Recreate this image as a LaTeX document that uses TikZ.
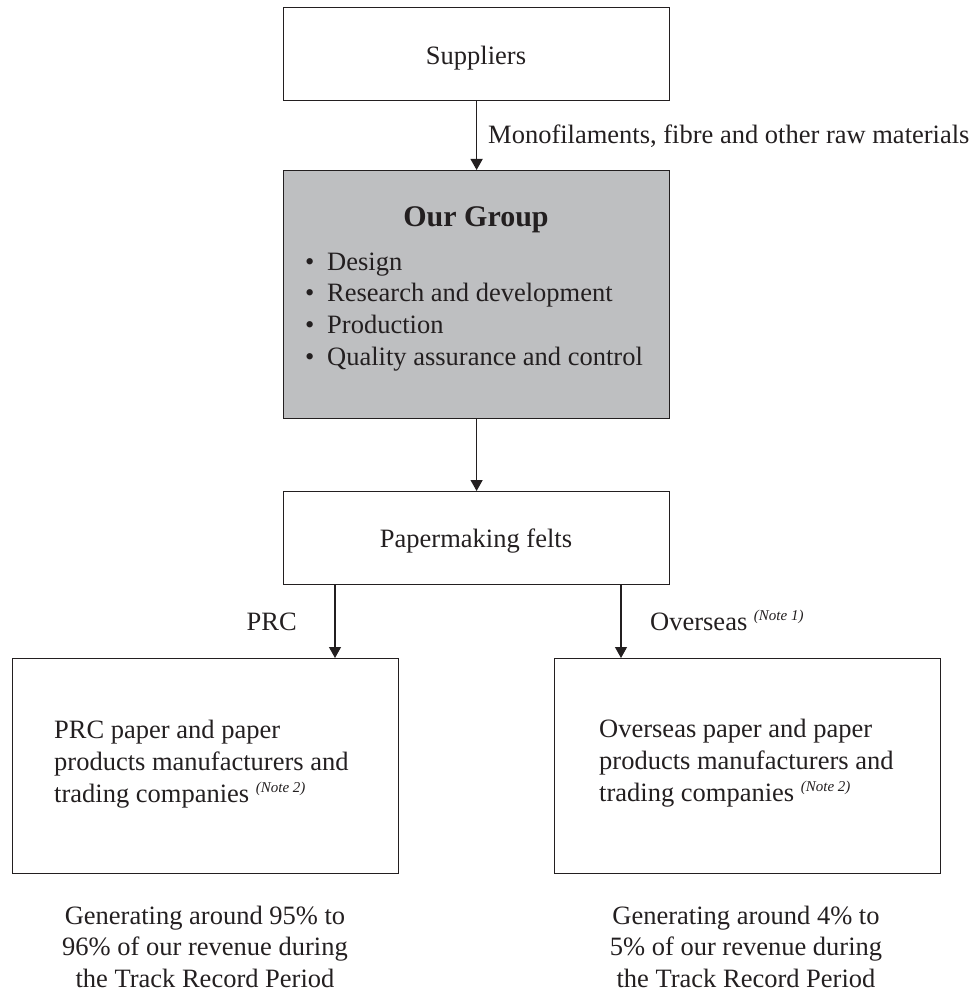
\documentclass[tikz,border=0pt]{standalone}
\usepackage{fontspec}
\setmainfont{Liberation Serif}
\usetikzlibrary{arrows.meta}
\definecolor{flowink}{RGB}{35,31,32}
\definecolor{flowgrey}{RGB}{190,191,193}
\newcommand{\notemark}[1]{\raisebox{10pt}{\fontsize{15}{15}\selectfont\itshape (Note #1)}}

\begin{document}
\begin{tikzpicture}[yscale=-1
,boxstyle/.style={draw=flowink,line width=1.2pt,inner sep=0pt,anchor=north west,minimum width=386pt}
,greybox/.style={boxstyle,fill=flowgrey}
,txtstyle/.style={inner sep=0pt,text=flowink,font=\fontsize{26.5}{31}\selectfont}
,arrstyle/.style={draw=flowink,line width=1.2pt,-{Triangle[length=11pt,width=12pt]}}
]
\useasboundingbox (0pt,0pt) rectangle (974pt,992pt);
% boxes
\node[boxstyle,minimum height=93pt] (sup) at (283pt,7pt) {};
\node[greybox,minimum height=248pt] (grp) at (283pt,170pt) {};
\node[boxstyle,minimum height=93pt] (felt) at (283pt,491pt) {};
\node[boxstyle,minimum height=215pt] (prcbox) at (12pt,658pt) {};
\node[boxstyle,minimum height=215pt] (osbox) at (554pt,658pt) {};
% texts in boxes
\node[txtstyle,anchor=base] (suptxt) at (476pt,65pt) {Suppliers};
\node[txtstyle,anchor=base,font=\fontsize{30}{36}\selectfont\bfseries] (grptxt) at (476pt,227pt) {Our Group};
\node[txtstyle,anchor=base west] (b1) at (305pt,270pt) {\makebox[22pt][l]{\textbullet}Design};
\node[txtstyle,anchor=base west] (b2) at (305pt,301.7pt) {\makebox[22pt][l]{\textbullet}Research and development};
\node[txtstyle,anchor=base west] (b3) at (305pt,333.4pt) {\makebox[22pt][l]{\textbullet}Production};
\node[txtstyle,anchor=base west] (b4) at (305pt,365pt) {\makebox[22pt][l]{\textbullet}Quality assurance and control};
\node[txtstyle,anchor=base] (felttxt) at (476pt,547pt) {Papermaking felts};
\node[txtstyle,anchor=base west] (p1) at (54pt,738pt) {PRC paper and paper};
\node[txtstyle,anchor=base west] (p2) at (54pt,770pt) {products manufacturers and};
\node[txtstyle,anchor=base west] (p3) at (54pt,802pt) {trading companies \notemark{2}};
\node[txtstyle,anchor=base west] (o1) at (599pt,737pt) {Overseas paper and paper};
\node[txtstyle,anchor=base west] (o2) at (599pt,769pt) {products manufacturers and};
\node[txtstyle,anchor=base west] (o3) at (599pt,801pt) {trading companies \notemark{2}};
% captions below
\node[txtstyle,anchor=base] (pc1) at (205pt,924pt) {Generating around 95\% to};
\node[txtstyle,anchor=base] (pc2) at (205pt,955.5pt) {96\% of our revenue during};
\node[txtstyle,anchor=base] (pc3) at (205pt,987pt) {the Track Record Period};
\node[txtstyle,anchor=base] (oc1) at (746pt,924pt) {Generating around 4\% to};
\node[txtstyle,anchor=base] (oc2) at (746pt,955.5pt) {5\% of our revenue during};
\node[txtstyle,anchor=base] (oc3) at (746pt,987pt) {the Track Record Period};
% arrows and their labels
\coordinate (prcdrop) at (335pt,600pt);
\coordinate (osdrop) at (621pt,600pt);
\draw[arrstyle] (sup.south) -- (grp.north);
\node[txtstyle,anchor=base west] (mono) at (488pt,144pt) {Monofilaments, fibre and other raw materials};
\draw[arrstyle] (grp.south) -- (felt.north);
\draw[arrstyle] (prcdrop |- felt.south) -- (prcdrop |- prcbox.north);
\node[txtstyle,anchor=base east] (prclbl) at (297pt,630pt) {PRC};
\draw[arrstyle] (osdrop |- felt.south) -- (osdrop |- osbox.north);
\node[txtstyle,anchor=base west] (oslbl) at (650pt,630pt) {Overseas \notemark{1}};
\end{tikzpicture}
\end{document}
